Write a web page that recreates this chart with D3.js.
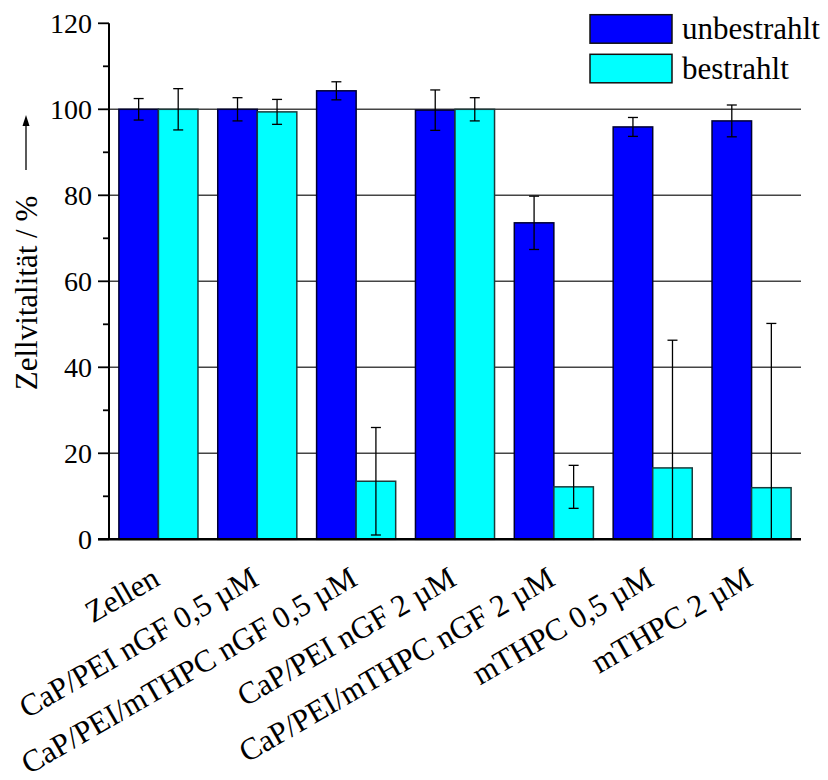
<!DOCTYPE html>
<html>
<head>
<meta charset="utf-8">
<script src="https://cdn.jsdelivr.net/npm/d3@7"></script>
<style>
  html, body { margin: 0; padding: 0; background: #fff; }
  svg { display: block; }
</style>
</head>
<body>
<svg id="chart" width="828" height="780"></svg>
<script>
// Cell viability per treatment, without and with irradiation (mean ± SD)
const categories = [
  "Zellen",
  "CaP/PEI nGF 0,5 µM",
  "CaP/PEI/mTHPC nGF 0,5 µM",
  "CaP/PEI nGF 2 µM",
  "CaP/PEI/mTHPC nGF 2 µM",
  "mTHPC 0,5 µM",
  "mTHPC 2 µM"
];
const seriesNames = ["unbestrahlt", "bestrahlt"];
const unbestrahlt    = [100, 100, 104.3, 99.8, 73.6, 95.9, 97.3];
const unbestrahltErr = [2.5, 2.7, 2.1, 4.7, 6.2, 2.2, 3.7];
const bestrahlt      = [100, 99.4, 13.5, 100, 12.2, 16.6, 12.0];
const bestrahltErr   = [4.8, 2.9, 12.5, 2.7, 5.0, 29.7, 38.2];
const majorTicks = [0, 20, 40, 60, 80, 100, 120];
const minorTicks = [10, 30, 50, 70, 90, 110];
const gridValues = [20, 40, 60, 80, 100];

const fills   = { unbestrahlt: "#0000ff", bestrahlt: "#00ffff" };
const strokes = { unbestrahlt: "#000033", bestrahlt: "#1b3b3b" };
const serif = "'Liberation Serif', 'Times New Roman', serif";

const svg = d3.select("#chart");
const plot = { left: 109, right: 801, top: 23.3, bottom: 539.3 };

const x = d3.scaleBand()
  .domain(categories)
  .range([plot.left, plot.right])
  .paddingInner(0.2)
  .paddingOuter(0.1);

const xSub = d3.scaleBand()
  .domain(seriesNames)
  .range([0, x.bandwidth()]);

const y = d3.scaleLinear()
  .domain([0, 120])
  .range([plot.bottom, plot.top]);

// Horizontal grid lines
svg.append("g")
  .selectAll("line")
  .data(gridValues)
  .join("line")
  .attr("x1", plot.left)
  .attr("x2", plot.right)
  .attr("y1", d => y(d))
  .attr("y2", d => y(d))
  .attr("stroke", "#444")
  .attr("stroke-width", 1.4);

// Rows: one record per category and series
const rows = [];
categories.forEach((c, i) => {
  rows.push({ cat: c, series: "unbestrahlt", value: unbestrahlt[i], err: unbestrahltErr[i] });
  rows.push({ cat: c, series: "bestrahlt", value: bestrahlt[i], err: bestrahltErr[i] });
});

// Bars
svg.append("g")
  .selectAll("rect")
  .data(rows)
  .join("rect")
  .attr("x", d => x(d.cat) + xSub(d.series))
  .attr("y", d => y(d.value))
  .attr("width", xSub.bandwidth())
  .attr("height", d => y(0) - y(d.value))
  .attr("fill", d => fills[d.series])
  .attr("stroke", d => strokes[d.series])
  .attr("stroke-width", 1.5);

// Error bars (clipped at the x axis)
const capHalf = 5;
const eb = svg.append("g")
  .attr("stroke", "#000")
  .attr("stroke-width", 1.3)
  .selectAll("g")
  .data(rows)
  .join("g");
const cxOf = d => x(d.cat) + xSub(d.series) + xSub.bandwidth() / 2;
const lo = d => Math.max(0, d.value - d.err);
const hi = d => d.value + d.err;
eb.append("line")
  .attr("x1", cxOf).attr("x2", cxOf)
  .attr("y1", d => y(hi(d))).attr("y2", d => y(lo(d)));
eb.append("line")
  .attr("x1", d => cxOf(d) - capHalf).attr("x2", d => cxOf(d) + capHalf)
  .attr("y1", d => y(hi(d))).attr("y2", d => y(hi(d)));
eb.filter(d => d.value - d.err > 0)
  .append("line")
  .attr("x1", d => cxOf(d) - capHalf).attr("x2", d => cxOf(d) + capHalf)
  .attr("y1", d => y(lo(d))).attr("y2", d => y(lo(d)));

// Y axis with major and minor ticks
const yAxis = svg.append("g");
yAxis.append("line")
  .attr("x1", plot.left).attr("x2", plot.left)
  .attr("y1", y(120)).attr("y2", y(0))
  .attr("stroke", "#000").attr("stroke-width", 2);
yAxis.selectAll("line.major")
  .data(majorTicks)
  .join("line")
  .attr("class", "major")
  .attr("x1", plot.left - 11).attr("x2", plot.left)
  .attr("y1", d => y(d)).attr("y2", d => y(d))
  .attr("stroke", "#000").attr("stroke-width", 1.8);
yAxis.selectAll("line.minor")
  .data(minorTicks)
  .join("line")
  .attr("class", "minor")
  .attr("x1", plot.left - 6).attr("x2", plot.left)
  .attr("y1", d => y(d)).attr("y2", d => y(d))
  .attr("stroke", "#000").attr("stroke-width", 1.8);
yAxis.selectAll("text")
  .data(majorTicks)
  .join("text")
  .attr("x", plot.left - 17)
  .attr("y", d => y(d) + 9.5)
  .attr("text-anchor", "end")
  .style("font-family", serif)
  .attr("font-size", 28)
  .attr("fill", "#000")
  .text(d => d);

// X axis line
svg.append("line")
  .attr("x1", plot.left - 11).attr("x2", plot.right)
  .attr("y1", y(0)).attr("y2", y(0))
  .attr("stroke", "#000").attr("stroke-width", 2.5);

// Rotated category labels, right-aligned under each group
svg.append("g")
  .selectAll("text")
  .data(categories)
  .join("text")
  .attr("transform", d => `translate(${x(d) + x.bandwidth() / 2 + 3},584) rotate(-30)`)
  .attr("text-anchor", "end")
  .style("font-family", serif)
  .attr("font-size", 31)
  .attr("fill", "#000")
  .text(d => d);

// Y axis title with upward arrow
svg.append("text")
  .attr("transform", "translate(37,293) rotate(-90)")
  .attr("text-anchor", "middle")
  .style("font-family", serif)
  .attr("font-size", 31)
  .attr("fill", "#000")
  .text("Zellvitalität / %");
svg.append("line")
  .attr("x1", 26).attr("x2", 26)
  .attr("y1", 170).attr("y2", 122)
  .attr("stroke", "#000").attr("stroke-width", 1.3);
svg.append("path")
  .attr("d", "M26,115 L22.5,126 L29.5,126 Z")
  .attr("fill", "#000");

// Legend
const legend = svg.append("g")
  .selectAll("g")
  .data(seriesNames)
  .join("g")
  .attr("transform", (d, i) => `translate(590,${14.7 + i * 39.6})`);
legend.append("rect")
  .attr("width", 82)
  .attr("height", 28.5)
  .attr("fill", d => fills[d])
  .attr("stroke", "#111")
  .attr("stroke-width", 1.5);
legend.append("text")
  .attr("x", 92)
  .attr("y", 24.6)
  .style("font-family", serif)
  .attr("font-size", 31)
  .attr("fill", "#000")
  .text(d => d);
</script>
</body>
</html>
